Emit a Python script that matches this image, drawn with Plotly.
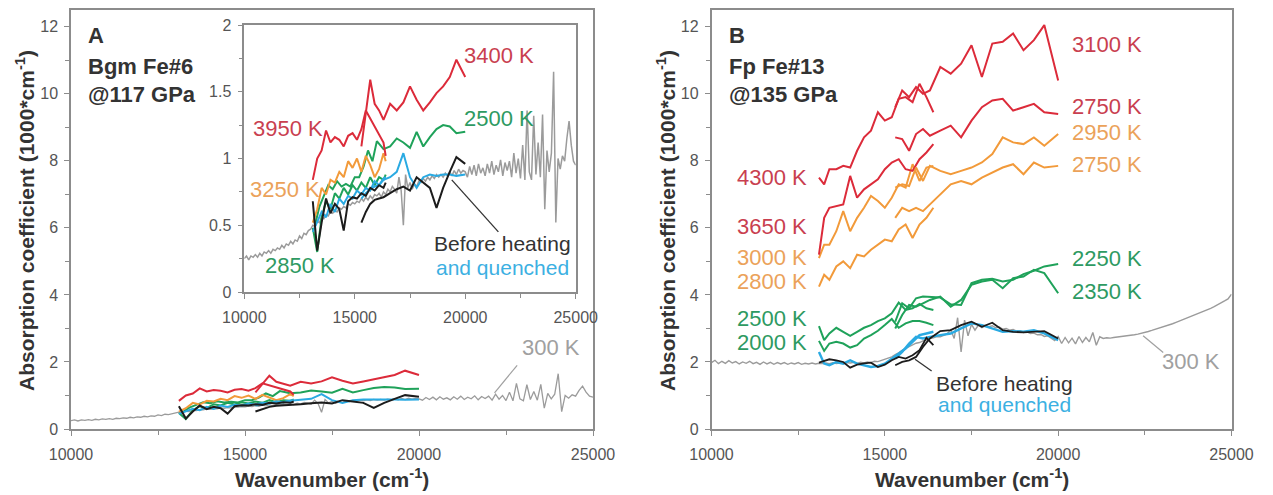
import plotly.graph_objects as go

# ---------------- data ----------------
# shared wavenumber grid of the 300 K reference spectra (cm^-1)
GRAY_WN = [
    10000, 10100, 10200, 10300, 10400, 10500, 10600, 10700, 10800, 10900,
    11000, 11100, 11200, 11300, 11400, 11500, 11600, 11700, 11800, 11900,
    12000, 12100, 12200, 12300, 12400, 12500, 12600, 12700, 12800, 12900,
    13000, 13100, 13200, 13300, 13400, 13500, 13600, 13700, 13800, 13900,
    14000, 14100, 14200, 14300, 14400, 14500, 14600, 14700, 14800, 14900,
    15000, 15100, 15200, 15300, 15400, 15500, 15600, 15700, 15800, 15900,
    16000, 16100, 16200, 16300, 16400, 16500, 16600, 16700, 16800, 16900,
    17000, 17100, 17200, 17300, 17400, 17500, 17600, 17700, 17800, 17900,
    18000, 18100, 18200, 18300, 18400, 18500, 18600, 18700, 18800, 18900,
    19000, 19100, 19200, 19300, 19400, 19500, 19600, 19700, 19800, 19900,
    20000, 20100, 20200, 20300, 20400, 20500, 20600, 20700, 20800, 20900,
    21000, 21100, 21200, 21300, 21400, 21500, 21600, 21700, 21800, 21900,
    22000, 22100, 22200, 22300, 22400, 22500, 22600, 22700, 22800, 22900,
    23000, 23100, 23200, 23300, 23400, 23500, 23600, 23700, 23800, 23900,
    24000, 24100, 24200, 24300, 24400, 24500, 24600, 24700, 24800, 24900,
    25000]

# Panel A : Bgm Fe#6 @117 GPa, 300 K spectrum
GRAY_A = [
    0.25, 0.27, 0.24, 0.27, 0.26, 0.28, 0.26, 0.29, 0.27, 0.30,
    0.29, 0.31, 0.29, 0.32, 0.31, 0.33, 0.32, 0.35, 0.33, 0.36,
    0.35, 0.38, 0.36, 0.39, 0.38, 0.42, 0.40, 0.44, 0.43, 0.46,
    0.47, 0.50, 0.49, 0.53, 0.52, 0.56, 0.55, 0.58, 0.57, 0.60,
    0.59, 0.61, 0.60, 0.63, 0.62, 0.64, 0.63, 0.66, 0.65, 0.67,
    0.66, 0.68, 0.67, 0.70, 0.68, 0.71, 0.69, 0.72, 0.70, 0.73,
    0.72, 0.74, 0.71, 0.75, 0.73, 0.77, 0.75, 0.79, 0.77, 0.74,
    0.86, 0.76, 0.50, 0.88, 0.78, 0.82, 0.77, 0.81, 0.79, 0.83,
    0.82, 0.85, 0.83, 0.86, 0.84, 0.87, 0.85, 0.88, 0.86, 0.88,
    0.86, 0.89, 0.87, 0.90, 0.87, 0.91, 0.88, 0.92, 0.89, 0.91,
    0.90, 0.86, 0.94, 0.88, 0.95, 0.87, 0.96, 0.89, 0.93, 0.87,
    0.96, 0.89, 0.98, 0.88, 0.95, 0.90, 0.99, 0.87, 0.97, 0.91,
    0.98, 0.86, 1.04, 0.89, 1.00, 0.85, 1.10, 0.84, 1.36, 0.90,
    0.84, 1.32, 0.88, 1.12, 0.86, 1.33, 0.62, 1.06, 0.90, 1.04,
    1.65, 0.52, 1.00, 0.92, 1.02, 0.98, 1.15, 1.28, 1.10, 0.98,
    0.95]

# Panel B : Fp Fe#13 @135 GPa, 300 K spectrum
GRAY_B = [
    1.98, 2.05, 1.95, 2.02, 1.96, 2.04, 1.97, 2.01, 1.94, 2.00,
    1.96, 2.02, 1.95, 1.99, 1.93, 2.00, 1.94, 1.99, 1.93, 1.98,
    1.94, 1.98, 1.93, 1.97, 1.94, 1.98, 1.93, 1.96, 1.94, 1.97,
    1.94, 1.96, 1.95, 1.97, 1.95, 1.98, 1.95, 1.97, 1.96, 1.98,
    1.97, 1.99, 1.96, 1.99, 1.97, 2.00, 1.98, 2.02, 2.01, 2.05,
    2.07, 2.12, 2.15, 2.22, 2.27, 2.35, 2.40, 2.47, 2.50, 2.56,
    2.58, 2.63, 2.65, 2.70, 2.72, 2.76, 2.75, 2.80, 2.84, 2.96,
    2.70, 3.32, 2.30, 3.25, 2.78, 3.12, 2.95, 3.10, 3.02, 3.08,
    3.05, 3.08, 3.02, 3.04, 2.98, 3.00, 2.95, 2.97, 2.92, 2.93,
    2.88, 2.90, 2.85, 2.86, 2.81, 2.82, 2.76, 2.78, 2.70, 2.64,
    2.76, 2.55, 2.73, 2.57, 2.71, 2.54, 2.76, 2.58, 2.73, 2.60,
    2.88, 2.50, 2.75, 2.70, 2.72, 2.71, 2.73, 2.74, 2.75, 2.76,
    2.77, 2.79, 2.81, 2.83, 2.85, 2.88, 2.91, 2.94, 2.97, 3.00,
    3.03, 3.07, 3.10, 3.14, 3.18, 3.22, 3.26, 3.30, 3.34, 3.38,
    3.42, 3.46, 3.51, 3.55, 3.60, 3.65, 3.70, 3.76, 3.82, 3.88,
    4.02]

# low-wavenumber acquisitions (13100-16400 cm^-1)
WN_LOW_A = [13100, 13300, 13500, 13700, 13900, 14100, 14300, 14500, 14700,
            14900, 15100, 15300, 15500, 15700, 15900, 16100, 16300, 16400]
A_3950K = [0.84, 1.00, 1.06, 1.21, 1.12, 1.16, 1.14, 1.09, 1.17,
           1.19, 1.14, 1.22, 1.36, 1.30, 1.24, 1.19, 1.12, 1.02]
A_3250K = [0.52, 0.62, 0.78, 0.73, 0.84, 0.82, 0.90, 0.86, 0.98,
           0.93, 1.00, 0.90, 1.02, 0.95, 0.86, 0.92, 1.04, 0.98]
A_2850K = [0.48, 0.30, 0.56, 0.68, 0.62, 0.74, 0.70, 0.78, 0.73,
           0.80, 0.76, 0.82, 0.78, 0.86, 0.80, 0.86, 0.84, 0.88]
A_BEFORE_LOW = [0.68, 0.31, 0.52, 0.70, 0.59, 0.66, 0.62, 0.46, 0.68,
                0.71, 0.70, 0.74, 0.72, 0.78, 0.76, 0.80, 0.78, 0.82]
A_QUENCH_LOW = [0.45, 0.52, 0.60, 0.56, 0.66, 0.60, 0.70, 0.66, 0.72,
                0.70, 0.76, 0.73, 0.78, 0.76, 0.83, 0.80, 0.85, 0.86]

# high-wavenumber acquisitions (15300-20000 cm^-1)
WN_HIGH = [15300, 15500, 15700, 15900, 16100, 16300, 16600, 16900, 17200,
           17500, 17800, 18100, 18400, 18700, 19000, 19300, 19600, 20000]
A_3400K = [1.09, 1.35, 1.59, 1.41, 1.36, 1.29, 1.41, 1.36, 1.42,
           1.54, 1.44, 1.36, 1.42, 1.49, 1.54, 1.61, 1.74, 1.61]
A_BEFORE_HIGH = [0.52, 0.60, 0.66, 0.69, 0.70, 0.71, 0.74, 0.77, 0.79,
                 0.76, 0.86, 0.82, 0.78, 0.63, 0.78, 0.90, 1.01, 0.96]
A_QUENCH_HIGH = [0.70, 0.74, 0.77, 0.79, 0.80, 0.84, 0.86, 0.90, 1.04,
                 0.86, 0.78, 0.86, 0.88, 0.87, 0.88, 0.88, 0.87, 0.88]

WN_2500K_A = [13200, 13400, 13600, 13800, 14000, 14200, 14400, 14600, 14800,
              15000, 15200, 15400, 15600, 15800, 16000, 16300, 16600, 16900,
              17200, 17500, 17800, 18100, 18400, 18700, 19000, 19300, 19600,
              20000]
A_2500K = [0.50, 0.64, 0.72, 0.80, 0.77, 0.83, 0.79, 0.81, 0.79,
           0.86, 0.86, 0.94, 1.06, 0.98, 1.13, 1.07, 1.09, 1.15,
           1.12, 1.08, 1.20, 1.09, 1.16, 1.22, 1.25, 1.24, 1.19,
           1.20]

WN_LOW_B = [13100, 13250, 13400, 13600, 13800, 14000, 14200, 14400, 14600,
            14800, 15000, 15200, 15400, 15600, 15800, 16000, 16200, 16400]
B_4300K = [7.50, 7.30, 7.75, 7.75, 7.85, 7.80, 8.30, 8.70, 8.90,
           9.45, 9.20, 9.30, 9.85, 9.90, 9.75, 10.30, 9.90, 9.45]
B_3650K = [5.20, 6.30, 6.60, 6.65, 6.70, 7.55, 6.90, 7.15, 7.30,
           7.45, 7.75, 7.95, 8.05, 7.75, 7.70, 8.05, 8.25, 8.50]
B_3000K = [5.10, 5.50, 5.50, 5.90, 6.50, 5.90, 6.30, 6.60, 6.95,
           6.80, 6.60, 6.90, 7.30, 7.20, 7.90, 7.40, 7.80, 7.85]
B_2800K = [4.25, 4.60, 4.45, 4.85, 5.00, 4.80, 5.20, 5.15, 5.35,
           5.50, 5.65, 5.60, 5.95, 6.10, 5.70, 6.10, 6.30, 6.60]
B_2500K = [3.07, 2.65, 2.85, 3.02, 2.90, 2.78, 2.90, 3.02, 3.10,
           3.22, 3.30, 3.45, 3.77, 3.55, 3.60, 3.73, 3.60, 3.55]
B_2000K = [2.63, 2.33, 2.55, 2.60, 2.55, 2.43, 2.50, 2.70, 2.80,
           2.93, 3.10, 3.28, 3.02, 3.15, 3.22, 3.22, 3.17, 3.10]
B_BEFORE_LOW = [1.98, 2.02, 2.08, 2.05, 2.00, 1.83, 1.92, 1.96, 1.98,
                1.85, 1.92, 2.05, 2.15, 2.10, 2.20, 2.35, 2.72, 2.50]
B_QUENCH_LOW = [2.30, 1.95, 1.90, 2.00, 1.95, 2.05, 1.95, 1.90, 1.85,
                1.88, 1.95, 2.10, 2.25, 2.40, 2.60, 2.80, 2.85, 2.90]

B_3100K = [9.60, 10.10, 9.90, 10.20, 10.00, 10.10, 10.80, 10.60, 10.90,
           11.45, 10.50, 11.50, 11.55, 11.80, 11.30, 11.60, 12.05, 10.40]
B_2750K_RED = [8.70, 8.65, 8.30, 8.80, 8.95, 8.75, 8.90, 9.05, 8.70,
               9.20, 9.60, 9.80, 9.85, 9.50, 9.60, 9.70, 9.45, 9.40]
B_2950K = [7.20, 7.30, 7.25, 7.80, 7.40, 7.85, 7.70, 7.60, 7.70,
           7.80, 7.95, 8.20, 8.70, 8.55, 8.50, 8.70, 8.45, 8.80]
B_2750K_ORA = [6.30, 6.60, 6.50, 6.60, 6.50, 6.70, 7.00, 7.30, 7.40,
               7.30, 7.50, 7.65, 7.80, 7.90, 7.60, 7.95, 7.80, 7.85]
B_2250K = [3.20, 3.75, 3.60, 3.90, 3.95, 3.93, 3.92, 3.72, 3.70,
           4.35, 4.45, 4.48, 4.40, 4.45, 4.62, 4.72, 4.85, 4.92]
B_2350K = [3.00, 3.40, 3.70, 3.65, 3.75, 3.85, 3.95, 3.65, 3.85,
           4.30, 4.40, 4.45, 4.20, 4.50, 4.55, 4.75, 4.65, 4.05]
B_BEFORE_HIGH = [1.90, 2.00, 2.05, 2.15, 2.45, 2.70, 2.92, 2.95, 3.10,
                 3.20, 3.05, 3.17, 2.95, 2.90, 2.88, 2.90, 2.92, 2.70]
B_QUENCH_HIGH = [2.10, 2.30, 2.55, 2.75, 2.70, 2.75, 2.80, 2.85, 3.00,
                 3.15, 3.10, 3.00, 2.90, 2.92, 2.90, 2.95, 2.85, 2.65]

# ---------------- styling ----------------
W, H = 1273, 495
FONT = "Liberation Sans, Arial, Helvetica, sans-serif"
FRAME = "#8c8c8c"
RED, ORANGE, GREEN = "#dc2b3a", "#f29a3a", "#1fa25a"
BLUE, BLACK, GRAY = "#2aaae2", "#1c1c1c", "#9b9b9b"
RED_T, ORANGE_T, GREEN_T = "#c93f50", "#eba25a", "#2e9a62"
BLUE_T, BLACK_T, GRAY_T = "#3cb0e2", "#333333", "#a0a0a0"


def px(x):
    return x / W


def py(y):
    return 1 - y / H


fig = go.Figure()


def line(xs, ys, color, width, xa, ya):
    fig.add_trace(go.Scatter(x=xs, y=ys, mode="lines", xaxis=xa, yaxis=ya,
                             line=dict(color=color, width=width),
                             hoverinfo="skip", showlegend=False))


def panel_a(xa, ya, gw):
    line(GRAY_WN, GRAY_A, GRAY, gw, xa, ya)
    line(WN_LOW_A, A_2850K, GREEN, 2, xa, ya)
    line(WN_2500K_A, A_2500K, GREEN, 2, xa, ya)
    line(WN_LOW_A, A_3250K, ORANGE, 2, xa, ya)
    line(WN_LOW_A, A_3950K, RED, 2, xa, ya)
    line(WN_HIGH, A_3400K, RED, 2, xa, ya)
    line(WN_LOW_A, A_QUENCH_LOW, BLUE, 2, xa, ya)
    line(WN_HIGH, A_QUENCH_HIGH, BLUE, 2, xa, ya)
    line(WN_LOW_A, A_BEFORE_LOW, BLACK, 2, xa, ya)
    line(WN_HIGH, A_BEFORE_HIGH, BLACK, 2, xa, ya)


panel_a("x", "y", 1.3)
panel_a("x3", "y3", 1.5)

line(GRAY_WN, GRAY_B, GRAY, 1.4, "x2", "y2")
for ys, c in [(B_2500K, GREEN), (B_2000K, GREEN), (B_3000K, ORANGE),
              (B_2800K, ORANGE), (B_4300K, RED), (B_3650K, RED)]:
    line(WN_LOW_B, ys, c, 2, "x2", "y2")
for ys, c in [(B_2250K, GREEN), (B_2350K, GREEN), (B_2950K, ORANGE),
              (B_2750K_ORA, ORANGE), (B_3100K, RED), (B_2750K_RED, RED)]:
    line(WN_HIGH, ys, c, 2, "x2", "y2")
line(WN_LOW_B, B_QUENCH_LOW, BLUE, 2.4, "x2", "y2")
line(WN_HIGH, B_QUENCH_HIGH, BLUE, 2.4, "x2", "y2")
line(WN_LOW_B, B_BEFORE_LOW, BLACK, 1.8, "x2", "y2")
line(WN_HIGH, B_BEFORE_HIGH, BLACK, 1.8, "x2", "y2")

axis_common = dict(showline=True, linecolor=FRAME, linewidth=1.5, mirror=True,
                   ticks="outside", ticklen=5, tickwidth=1.2, tickcolor=FRAME,
                   showgrid=False, zeroline=False, fixedrange=True,
                   automargin=False,
                   tickfont=dict(family=FONT, size=16, color="#555555"))


def xaxis(dom, anchor):
    return dict(axis_common, domain=dom, anchor=anchor, range=[10000, 25000],
                tick0=10000, dtick=5000, tickformat="d", ticklabelstandoff=5,
                minor=dict(ticks="outside", ticklen=4, tick0=10000, dtick=2500,
                           tickcolor=FRAME, tickwidth=1.2))


def yaxis(dom, anchor, top, major, minor):
    return dict(axis_common, domain=dom, anchor=anchor, range=[0, top],
                tick0=0, dtick=major, ticklabelstandoff=3,
                minor=dict(ticks="outside", ticklen=4, tick0=0, dtick=minor,
                           tickcolor=FRAME, tickwidth=1.2))


YDOM = [py(429), py(10)]
fig.update_layout(
    template="none",
    width=W, height=H, autosize=False,
    margin=dict(l=0, r=0, t=0, b=0, autoexpand=False),
    paper_bgcolor="white", plot_bgcolor="white",
    font=dict(family=FONT),
    showlegend=False,
    xaxis=xaxis([px(71), px(593)], "y"),
    yaxis=yaxis(YDOM, "x", 12.5, 2, 1),
    xaxis2=xaxis([px(711.5), px(1231.5)], "y2"),
    yaxis2=yaxis(YDOM, "x2", 12.5, 2, 1),
    xaxis3=xaxis([px(244.3), px(575.7)], "y3"),
    yaxis3=yaxis([py(292), py(25)], "x3", 2, 0.5, 0.25),
)

ann = []


def label(text, x, y, color, size=22, xa="x", ya="y", anchor="center", bold=False):
    t = f"<b>{text}</b>" if bold else text
    ann.append(dict(text=t, x=x, y=y, xref=xa, yref=ya, showarrow=False,
                    xanchor=anchor, yanchor="middle",
                    font=dict(family=FONT, size=size, color=color)))


# panel headers
for i, t in enumerate(["A", "Bgm Fe#6", "@117 GPa"]):
    label(t, px(86), py([35, 67, 94][i]), BLACK_T, 22, "paper", "paper", "left", True)
for i, t in enumerate(["B", "Fp Fe#13", "@135 GPa"]):
    label(t, px(727), py([35, 67, 94][i]), BLACK_T, 22, "paper", "paper", "left", True)

# axis titles
for cx in (332, 971.5):
    label("Wavenumber (cm<sup>-1</sup>)", px(cx), py(478), "#333333", 21,
          "paper", "paper", "center", True)
for cx in (25, 666):
    ann.append(dict(text="<b>Absorption coefficient (1000*cm<sup>-1</sup>)</b>",
                    x=px(cx), y=py(221), xref="paper", yref="paper",
                    showarrow=False, textangle=-90, xanchor="center",
                    yanchor="middle",
                    font=dict(family=FONT, size=21, color="#333333")))

# inset labels (panel A)
label("3400 K", 19855, 1.775, RED_T, 22, "x3", "y3", "left")
label("2500 K", 19855, 1.296, GREEN_T, 22, "x3", "y3", "left")
label("3950 K", 10303, 1.228, RED_T, 22, "x3", "y3", "left")
label("3250 K", 10170, 0.77, ORANGE_T, 22, "x3", "y3", "left")
label("2850 K", 10850, 0.195, GREEN_T, 22, "x3", "y3", "left")
label("Before heating", 21670, 0.367, BLACK_T, 21, "x3", "y3", "center")
label("and quenched", 21670, 0.187, BLUE_T, 21, "x3", "y3", "center")
label("300 K", 23793, 2.42, GRAY_T, 22, "x", "y", "center")

# panel B labels
for t, v, c in [("3100 K", 11.46, RED_T), ("2750 K", 9.61, RED_T),
                ("2950 K", 8.84, ORANGE_T), ("2750 K", 7.88, ORANGE_T),
                ("2250 K", 5.10, GREEN_T), ("2350 K", 4.09, GREEN_T)]:
    label(t, 20340, v, c, 22, "x2", "y2", "left")
for t, v, c in [("4300 K", 7.49, RED_T), ("3650 K", 6.03, RED_T),
                ("3000 K", 5.13, ORANGE_T), ("2800 K", 4.39, ORANGE_T),
                ("2500 K", 3.31, GREEN_T), ("2000 K", 2.57, GREEN_T)]:
    label(t, 12810, v, c, 22, "x2", "y2", "right")
label("Before heating", 18466, 1.37, BLACK_T, 21, "x2", "y2", "center")
label("and quenched", 18466, 0.72, BLUE_T, 21, "x2", "y2", "center")
label("300 K", 23830, 2.01, GRAY_T, 22, "x2", "y2", "center")

fig.update_layout(annotations=ann)

# leader lines
shapes = [
    dict(type="line", xref="x3", yref="y3", x0=19390, y0=0.84, x1=21500, y1=0.45,
         line=dict(color="#333333", width=1.3)),
    dict(type="line", xref="x", yref="y", x0=22170, y0=1.08, x1=22820, y1=1.9,
         line=dict(color=GRAY_T, width=1.2)),
    dict(type="line", xref="x2", yref="y2", x0=15870, y0=2.08, x1=16350, y1=1.73,
         line=dict(color="#333333", width=1.3)),
    dict(type="line", xref="x2", yref="y2", x0=22450, y0=2.78, x1=23030, y1=2.28,
         line=dict(color=GRAY_T, width=1.2)),
]
fig.update_layout(shapes=shapes)

fig.write_html("out.html", config={"displayModeBar": False})
